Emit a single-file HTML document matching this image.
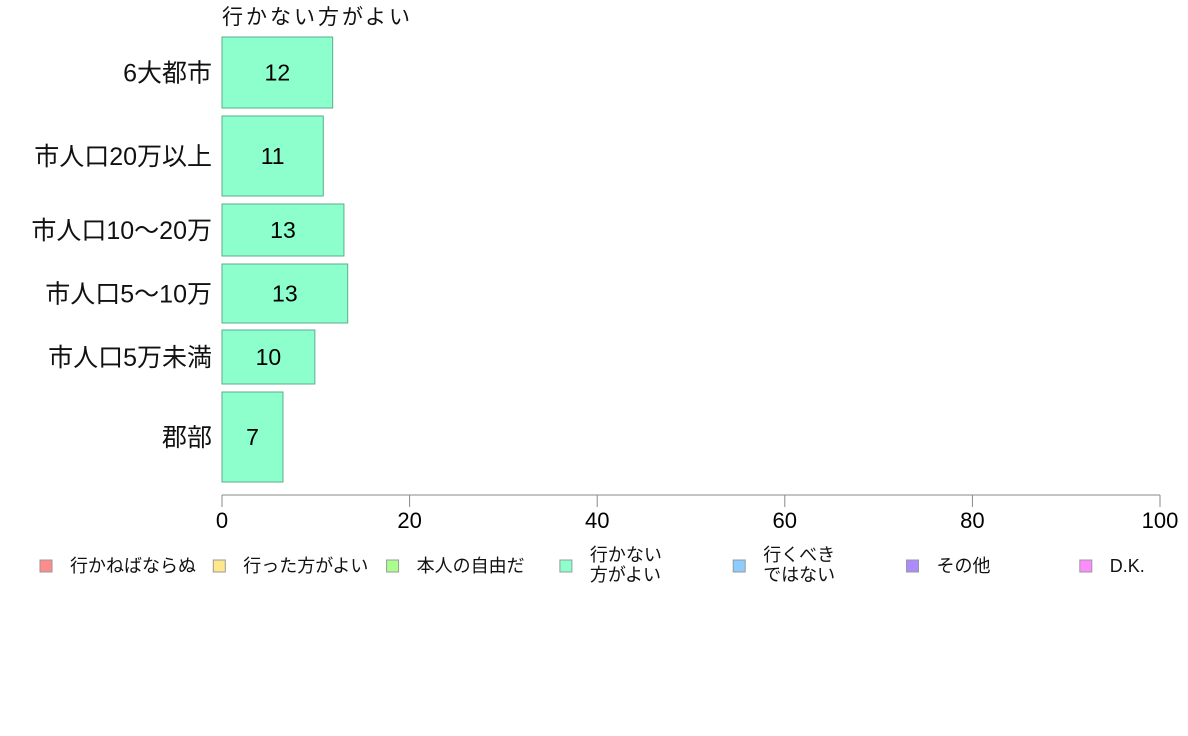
<!DOCTYPE html>
<html><head><meta charset="utf-8"><style>
body{margin:0;background:#fff}
svg{display:block;font-family:"Liberation Sans","Noto Sans CJK JP",sans-serif}
</style></head><body>
<svg id="c" width="1188" height="736" xmlns="http://www.w3.org/2000/svg">
<text x="222" y="24" font-size="21" fill="#111" textLength="188">行かない方がよい</text>
<g id="bars"></g>
<g id="axis"></g>
<g id="legend"></g>
</svg>
<script>
const categories=["6大都市","市人口20万以上","市人口10〜20万","市人口5〜10万","市人口5万未満","郡部"];
const values=[11.8,10.8,13.0,13.4,9.9,6.5];
const labels=["12","11","13","13","10","7"];
const bandTops=[37,116,204,264,330,392];
const bandBottoms=[108,196,256,323,384,482];
const ticks=[0,20,40,60,80,100];
const legendNames=["行かねばならぬ","行った方がよい","本人の自由だ","行かない\n方がよい","行くべき\nではない","その他","D.K."];
const legendColors=["#ff8c8c","#ffe88c","#aaff8c","#8cffcc","#8cccff","#aa8cff","#ff8cff"];
const NS="http://www.w3.org/2000/svg";
const x=v=>222+v*9.38;
function mk(t,a,p){const e=document.createElementNS(NS,t);for(const k in a)e.setAttribute(k,a[k]);p.appendChild(e);return e;}
const bars=document.getElementById('bars');
categories.forEach((c,i)=>{
 const t=bandTops[i],b=bandBottoms[i],m=(t+b)/2;
 const r=mk('rect',{x:x(0),y:t,width:x(values[i])-x(0),height:b-t,fill:'#8cffcc',stroke:'#5cae8c','stroke-width':1},bars);
 
 
 const vl=mk('text',{x:(x(0)+x(values[i]))/2,y:m+8,'font-size':23,'text-anchor':'middle',fill:'#000'},bars);
 vl.textContent=labels[i];
 
 
 const cl=mk('text',{x:212,y:m+9,'font-size':25,'text-anchor':'end',fill:'#111'},bars);
 cl.textContent=c;
 
 
});
const ax=document.getElementById('axis');
mk('line',{x1:x(0),x2:x(100),y1:495,y2:495,stroke:'#888'},ax);
ticks.forEach(t=>{
 mk('line',{x1:x(t),x2:x(t),y1:495,y2:507,stroke:'#888'},ax);
 const tl=mk('text',{x:x(t),y:528,'font-size':22,'text-anchor':'middle',fill:'#000'},ax);
 tl.textContent=t;
 
 
});
const lg=document.getElementById('legend');
legendNames.forEach((n,i)=>{
 const bx=40+i*173.3;
 const g=mk('g',{},lg);
 
 
 mk('rect',{x:bx,y:560,width:12,height:12,fill:legendColors[i],stroke:'#999'},g);
 const lines=n.split('\n');
 lines.forEach((ln,j)=>{
  const tt=mk('text',{x:bx+30,y:(lines.length==1?572:561+j*20),'font-size':18,fill:'#111'},g);
  tt.textContent=ln;
 });
});
</script>
</body></html>
